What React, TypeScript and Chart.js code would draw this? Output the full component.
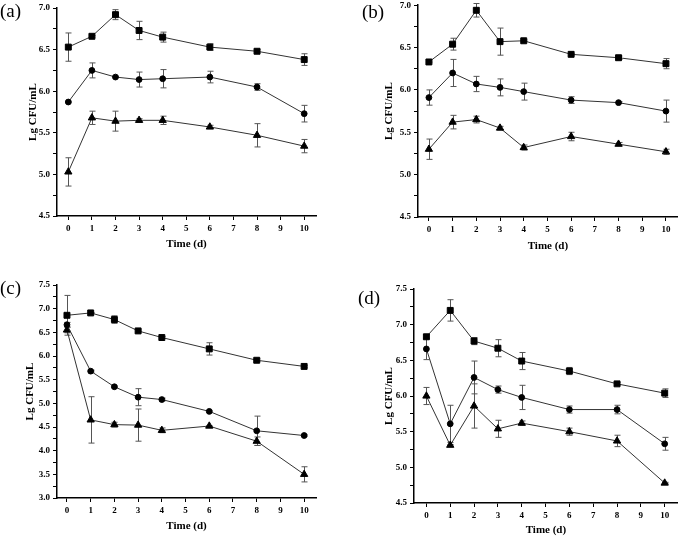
import React, { useEffect, useRef } from "react";
import { Chart, registerables } from "chart.js";

Chart.register(...registerables);

// ---- data ----
const days = [0, 1, 2, 3, 4, 6, 8, 10];
const xTickLabels = [0, 1, 2, 3, 4, 5, 6, 7, 8, 9, 10];

// panel (a)
const sqA = [6.53, 6.66, 6.92, 6.73, 6.65, 6.53, 6.48, 6.38];
const sqAErr = [0.17, 0.01, 0.06, 0.11, 0.06, 0.04, 0.02, 0.07];
const ciA = [5.87, 6.25, 6.17, 6.14, 6.15, 6.17, 6.05, 5.73];
const ciAErr = [0.01, 0.09, 0.01, 0.09, 0.11, 0.07, 0.04, 0.1];
const trA = [5.03, 5.68, 5.64, 5.65, 5.65, 5.57, 5.47, 5.34];
const trAErr = [0.17, 0.08, 0.12, 0.02, 0.05, 0.02, 0.14, 0.08];

// panel (b)
const sqB = [6.33, 6.54, 6.94, 6.57, 6.58, 6.42, 6.38, 6.31];
const sqBErr = [0.01, 0.07, 0.08, 0.16, 0.01, 0.01, 0.02, 0.06];
const ciB = [5.91, 6.2, 6.07, 6.03, 5.98, 5.88, 5.85, 5.75];
const ciBErr = [0.09, 0.16, 0.09, 0.1, 0.1, 0.04, 0.01, 0.13];
const trB = [5.3, 5.62, 5.65, 5.55, 5.32, 5.45, 5.36, 5.27];
const trBErr = [0.12, 0.08, 0.04, 0.02, 0.03, 0.05, 0.02, 0.03];

// panel (c)
const sqC = [6.86, 6.91, 6.77, 6.53, 6.39, 6.15, 5.91, 5.78];
const sqCErr = [0.42, 0.01, 0.08, 0.02, 0.02, 0.13, 0.03, 0.02];
const ciC = [6.66, 5.68, 5.35, 5.13, 5.08, 4.83, 4.42, 4.32];
const ciCErr = [0.05, 0.02, 0.02, 0.18, 0.03, 0.02, 0.31, 0.02];
const trC = [6.55, 4.65, 4.55, 4.54, 4.43, 4.52, 4.2, 3.5];
const trCErr = [0.06, 0.49, 0.05, 0.34, 0.05, 0.01, 0.09, 0.16];

// panel (d)
const sqD = [6.83, 7.2, 6.77, 6.67, 6.49, 6.35, 6.17, 6.04];
const sqDErr = [0.03, 0.15, 0.05, 0.12, 0.12, 0.05, 0.02, 0.06];
const ciD = [6.66, 5.61, 6.26, 6.09, 5.98, 5.81, 5.81, 5.33];
const ciDErr = [0.15, 0.26, 0.23, 0.05, 0.17, 0.05, 0.06, 0.09];
const trD = [6.0, 5.31, 5.86, 5.54, 5.62, 5.5, 5.37, 4.78];
const trDErr = [0.12, 0.01, 0.31, 0.12, 0.03, 0.05, 0.08, 0.01];

const yTicksAB = [4.5, 4.75, 5.0, 5.25, 5.5, 5.75, 6.0, 6.25, 6.5, 6.75, 7.0];
const yTicksC = [3.0, 3.25, 3.5, 3.75, 4.0, 4.25, 4.5, 4.75, 5.0, 5.25, 5.5, 5.75, 6.0, 6.25, 6.5, 6.75, 7.0, 7.25, 7.5];
const yTicksD = [4.5, 4.75, 5.0, 5.25, 5.5, 5.75, 6.0, 6.25, 6.5, 6.75, 7.0, 7.25, 7.5];

const xTitle = "Time (d)";
const yTitle = "Lg CFU/mL";

const FONT = "'Liberation Serif', 'Times New Roman', serif";
const TITLE_SIZE = 11;
const LH = TITLE_SIZE * 1.2;

type PanelCfg = {
  label: string;
  labelLeft: number;
  labelTop: number;
  left: number;
  top: number;
  w: number;
  h: number;
  x1: number;
  x2: number;
  y1: number;
  y2: number;
  yTitleX: number;
  xTitleY: number;
  xMin: number;
  xMax: number;
  yMin: number;
  yMax: number;
  yTicks: number[];
  series: { vals: number[]; errs: number[]; style: string; radius: number }[];
};

const panels: PanelCfg[] = [
  {
    label: "(a)", labelLeft: 0, labelTop: 1,
    left: 0, top: 0, w: 340, h: 270,
    x1: 57, x2: 316, y1: 8, y2: 216, yTitleX: 33, xTitleY: 244,
    xMin: -0.48, xMax: 10.5, yMin: 4.5, yMax: 7.0, yTicks: yTicksAB,
    series: [
      { vals: sqA, errs: sqAErr, style: "rect", radius: 4.2 },
      { vals: ciA, errs: ciAErr, style: "circle", radius: 2.9 },
      { vals: trA, errs: trAErr, style: "triangle", radius: 4.2 },
    ],
  },
  {
    label: "(b)", labelLeft: 362, labelTop: 2,
    left: 340, top: 0, w: 343, h: 270,
    x1: 418, x2: 682, y1: 4, y2: 217, yTitleX: 389, xTitleY: 246,
    xMin: -0.46, xMax: 10.5, yMin: 4.5, yMax: 7.0, yTicks: yTicksAB,
    series: [
      { vals: sqB, errs: sqBErr, style: "rect", radius: 4.2 },
      { vals: ciB, errs: ciBErr, style: "circle", radius: 2.9 },
      { vals: trB, errs: trBErr, style: "triangle", radius: 4.2 },
    ],
  },
  {
    label: "(c)", labelLeft: 0, labelTop: 278,
    left: 0, top: 270, w: 340, h: 267,
    x1: 57, x2: 316, y1: 285, y2: 498, yTitleX: 30, xTitleY: 526,
    xMin: -0.42, xMax: 10.5, yMin: 3.0, yMax: 7.5, yTicks: yTicksC,
    series: [
      { vals: sqC, errs: sqCErr, style: "rect", radius: 4.2 },
      { vals: ciC, errs: ciCErr, style: "circle", radius: 2.9 },
      { vals: trC, errs: trCErr, style: "triangle", radius: 4.2 },
    ],
  },
  {
    label: "(d)", labelLeft: 358, labelTop: 288,
    left: 340, top: 270, w: 343, h: 267,
    x1: 414, x2: 682.5, y1: 289, y2: 503, yTitleX: 389, xTitleY: 530,
    xMin: -0.52, xMax: 10.55, yMin: 4.5, yMax: 7.5, yTicks: yTicksD,
    series: [
      { vals: sqD, errs: sqDErr, style: "rect", radius: 4.2 },
      { vals: ciD, errs: ciDErr, style: "circle", radius: 2.9 },
      { vals: trD, errs: trDErr, style: "triangle", radius: 4.2 },
    ],
  },
];

const errorBarPlugin = {
  id: "errorBars",
  beforeDatasetsDraw(chart: any) {
    const ctx = chart.ctx;
    const xs = chart.scales.x;
    const ys = chart.scales.y;
    ctx.save();
    ctx.strokeStyle = "#555";
    ctx.lineWidth = 1;
    chart.data.datasets.forEach((ds: any) => {
      const errs: number[] = ds.errors || [];
      ds.data.forEach((p: any, i: number) => {
        const e = errs[i];
        if (!e) return;
        const x = Math.round(xs.getPixelForValue(p.x)) + 0.5;
        const yT = ys.getPixelForValue(p.y + e);
        const yB = ys.getPixelForValue(p.y - e);
        ctx.beginPath();
        ctx.moveTo(x, yT);
        ctx.lineTo(x, yB);
        ctx.moveTo(x - 3, yT);
        ctx.lineTo(x + 3, yT);
        ctx.moveTo(x - 3, yB);
        ctx.lineTo(x + 3, yB);
        ctx.stroke();
      });
    });
    ctx.restore();
  },
};

function Panel({ cfg }: { cfg: PanelCfg }) {
  const ref = useRef<HTMLCanvasElement>(null);
  useEffect(() => {
    if (!ref.current) return;
    const padLeft = cfg.yTitleX - LH / 2 - cfg.left;
    const yWidth = cfg.x1 - cfg.left - padLeft;
    const padTop = cfg.y1 - cfg.top;
    const padRight = cfg.left + cfg.w - cfg.x2;
    const xBottom = cfg.xTitleY + LH / 2;
    const xHeight = xBottom - cfg.y2;
    const padBottom = cfg.top + cfg.h - xBottom;

    const datasets = cfg.series.map((s) => ({
      data: days.map((d, i) => ({ x: d, y: s.vals[i] })),
      errors: s.errs,
      borderColor: "#333",
      borderWidth: 1,
      pointStyle: s.style,
      pointRadius: s.radius,
      pointBackgroundColor: "#000",
      pointBorderColor: "#000",
      pointBorderWidth: 1,
      tension: 0,
      fill: false,
    }));

    const chart = new Chart(ref.current, {
      type: "line",
      data: { datasets: datasets as any },
      options: {
        responsive: false,
        maintainAspectRatio: false,
        animation: false,
        events: [],
        layout: { padding: { left: padLeft, top: padTop, right: padRight, bottom: padBottom } },
        plugins: { legend: { display: false }, tooltip: { enabled: false } },
        scales: {
          x: {
            type: "linear",
            min: cfg.xMin,
            max: cfg.xMax,
            offset: false,
            afterBuildTicks: (s: any) => {
              s.ticks = xTickLabels.map((v) => ({ value: v }));
            },
            afterFit: (s: any) => {
              s.height = xHeight;
              s.paddingLeft = 0;
              s.paddingRight = 0;
            },
            grid: { drawOnChartArea: false, drawTicks: true, tickLength: 4, color: "#000", tickWidth: 1 },
            border: { display: true, color: "#000", width: 1.5 },
            ticks: {
              autoSkip: false,
              maxRotation: 0,
              padding: 3,
              color: "#000",
              font: { family: FONT, size: 9, weight: "bold" },
              callback: (v: any) => String(v),
            },
            title: {
              display: true,
              text: xTitle,
              color: "#000",
              padding: 0,
              font: { family: FONT, size: TITLE_SIZE, weight: "bold", lineHeight: 1.2 },
            },
          },
          y: {
            type: "linear",
            min: cfg.yMin,
            max: cfg.yMax,
            afterBuildTicks: (s: any) => {
              s.ticks = cfg.yTicks.map((v) => ({ value: v }));
            },
            afterFit: (s: any) => {
              s.width = yWidth;
              s.paddingTop = 0;
              s.paddingBottom = 0;
            },
            grid: { drawOnChartArea: false, drawTicks: true, tickLength: 4, color: "#000", tickWidth: 1 },
            border: { display: true, color: "#000", width: 1.5 },
            ticks: {
              autoSkip: false,
              padding: 3,
              color: "#000",
              font: { family: FONT, size: 9, weight: "bold" },
              callback: (v: any) => {
                const n = Number(v);
                return Math.abs(n * 2 - Math.round(n * 2)) < 1e-6 ? n.toFixed(1) : "";
              },
            },
            title: {
              display: true,
              text: yTitle,
              color: "#000",
              padding: 0,
              font: { family: FONT, size: TITLE_SIZE, weight: "bold", lineHeight: 1.2 },
            },
          },
        },
      } as any,
      plugins: [errorBarPlugin],
    });
    return () => chart.destroy();
  }, [cfg]);

  return (
    <>
      <canvas
        ref={ref}
        width={cfg.w}
        height={cfg.h}
        style={{ position: "absolute", left: cfg.left, top: cfg.top, width: cfg.w, height: cfg.h, display: "block" }}
      />
      <div
        style={{
          position: "absolute",
          left: cfg.labelLeft,
          top: cfg.labelTop,
          fontFamily: FONT,
          fontSize: 19,
          lineHeight: "19px",
          color: "#000",
          whiteSpace: "nowrap",
        }}
      >
        {cfg.label}
      </div>
    </>
  );
}

export default function App() {
  return (
    <div style={{ position: "absolute", left: 0, top: 0, width: 683, height: 537, background: "#fff", overflow: "hidden" }}>
      {panels.map((p) => (
        <Panel key={p.label} cfg={p} />
      ))}
    </div>
  );
}
